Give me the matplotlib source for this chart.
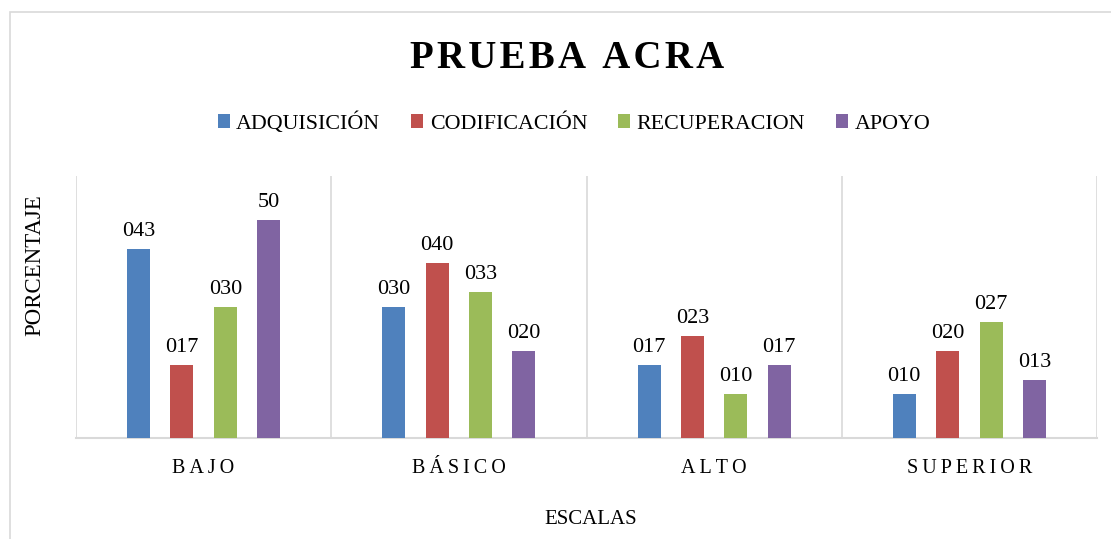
import matplotlib
matplotlib.use("Agg")
import matplotlib.pyplot as plt
from matplotlib.patches import Patch, Rectangle
import numpy as np

categories = ["BAJO", "BÁSICO", "ALTO", "SUPERIOR"]
series_names = ["ADQUISICIÓN", "CODIFICACIÓN", "RECUPERACION", "APOYO"]
adquisicion = [43.33, 30.0, 16.67, 10.0]
codificacion = [16.67, 40.0, 23.33, 20.0]
recuperacion = [30.0, 33.33, 10.0, 26.67]
apoyo = [50.0, 20.0, 16.67, 13.33]
labels_adq = ["043", "030", "017", "010"]
labels_cod = ["017", "040", "023", "020"]
labels_rec = ["030", "033", "010", "027"]
labels_apo = ["50", "020", "017", "013"]

series = [adquisicion, codificacion, recuperacion, apoyo]
series_labels = [labels_adq, labels_cod, labels_rec, labels_apo]
colors = ["#4F81BD", "#C0504D", "#9BBB59", "#8064A2"]

FAM = ["Liberation Serif", "DejaVu Serif"]
plt.rcParams['font.family'] = FAM

W, H = 1111, 539
fig = plt.figure(figsize=(W / 100, H / 100), dpi=100)

# outer chart border
fig.patches.append(Rectangle((10 / W, -0.1), 1.2, 1 - 12.5 / H + 0.1,
                             transform=fig.transFigure, fill=False,
                             edgecolor="#D9D9D9", linewidth=1.2))

ax = fig.add_axes([76 / W, 1 - 438 / H, (1097 - 76) / W, (438 - 176) / H])
x = np.arange(len(categories))
step = 0.17
bw = 0.09
for i, (vals, labs, c) in enumerate(zip(series, series_labels, colors)):
    pos = x + (i - 1.5) * step
    bars = ax.bar(pos, vals, width=bw, color=c, zorder=3)
    for b, lab in zip(bars, labs):
        ax.annotate(lab, (b.get_x() + b.get_width() / 2, b.get_height()),
                    xytext=(0, 8), textcoords="offset pixels",
                    ha="center", va="bottom", fontsize=16, color="#000000")

ax.set_xlim(-0.5, len(categories) - 0.5)
ax.set_ylim(0, 60)
for s in ["top", "right", "left"]:
    ax.spines[s].set_visible(False)
ax.spines["bottom"].set_color("#D9D9D9")
ax.spines["bottom"].set_linewidth(1.5)
for b in np.arange(len(categories) + 1) - 0.5:
    ax.axvline(b, color="#D9D9D9", linewidth=1.2, zorder=1)
ax.set_yticks([])
thin = "\u2009"
ax.set_xticks(x)
ax.set_xticklabels([thin.join(list(c)) for c in categories], fontsize=14.5)
ax.tick_params(axis="x", length=0, pad=15)

hair = "\u200a"
fig.text(567 / W, 1 - 58 / H, hair.join(list("PRUEBA ACRA")), ha="center", va="center",
         fontsize=28, fontweight="bold")
fig.text(35 / W, 1 - 265 / H, "PORCENTAJE", rotation=90, ha="center",
         va="center", fontsize=16.5)
fig.text(591 / W, 1 - 520 / H, "ESCALAS", ha="center", va="center",
         fontsize=15)

handles = [Patch(facecolor=c, edgecolor="none") for c in colors]
fig.legend(handles, series_names, loc="center", bbox_to_anchor=(574 / W, 1 - 123 / H),
           ncol=4, frameon=False, fontsize=15.8, handlelength=0.55, handleheight=0.55,
           handletextpad=0.3, columnspacing=1.4)

fig.savefig("out.png", dpi=100)
